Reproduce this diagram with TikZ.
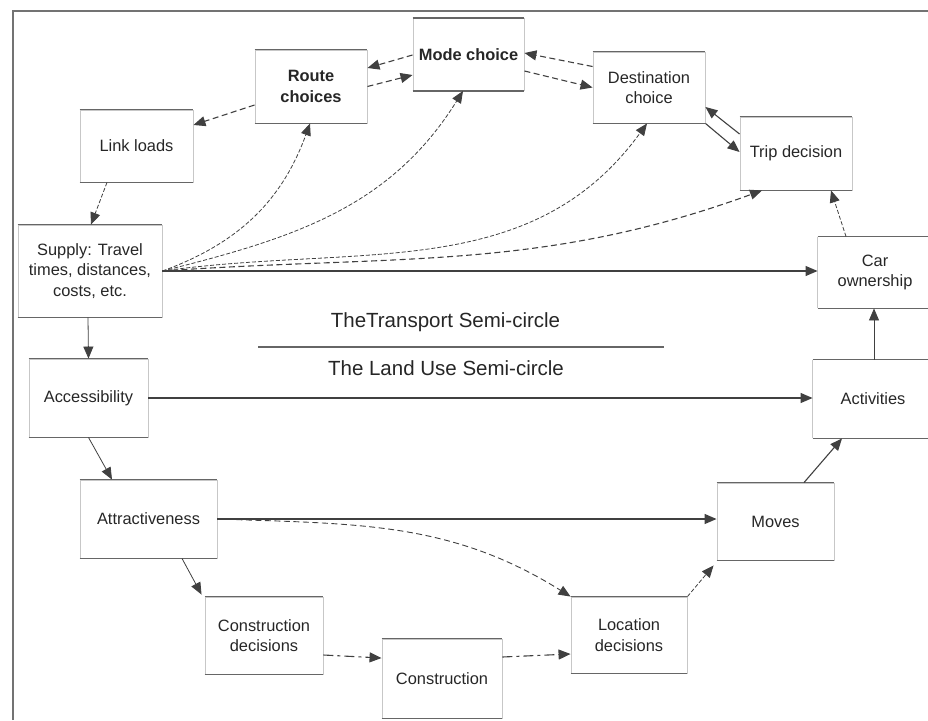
\documentclass[tikz,border=0pt]{standalone}
\usepackage{fontspec}
\setmainfont{Liberation Sans}
\usetikzlibrary{arrows.meta}
\begin{document}
\begin{tikzpicture}[x=1pt,y=-1pt,
  box/.style={draw=black!22, line width=0.9pt, align=center, inner sep=2pt,
    text=black!85, font=\fontsize{16.4}{20.5}\selectfont},
  openbox/.style={box, draw=none},
  side/.style={draw=black!22, line width=0.9pt},
  edge/.style={draw=black!60, line width=1.3pt},
  conn/.style={draw=black!75, line width=1.1pt, -{Triangle[length=12pt,width=10pt]}},
  dconn/.style={conn, dash pattern=on 6pt off 3.5pt},
  fconn/.style={conn, line width=0.8pt, dash pattern=on 4pt off 2pt},
  ldconn/.style={conn, dash pattern=on 10pt off 4pt on 3pt off 4pt},
  heading/.style={text=black!85, font=\fontsize{20.5}{24}\selectfont},
  frame/.style={draw=black!55, line width=2pt}]
\useasboundingbox (0,0) rectangle (928,720);

% outer frame (top and left edges)
\coordinate (fbl) at (13,720);
\coordinate (ftl) at (13,11);
\coordinate (ftr) at (928,11);
\draw[frame] (fbl) -- (ftl) -- (ftr);

% transport semi-circle
\node[box, minimum width=111pt, minimum height=72pt, font=\fontsize{16.4}{20.5}\selectfont\bfseries] (mode) at (468.5,54.5) {Mode choice};
\node[box, minimum width=112pt, minimum height=73pt, font=\fontsize{16.4}{20.5}\selectfont\bfseries] (route) at (311,86.5) {Route\\choices};
\node[box, minimum width=113pt, minimum height=72pt] (link) at (136.5,146) {Link loads};
\node[box, minimum width=112pt, minimum height=71pt] (dest) at (649,87.5) {Destination\\choice};
\node[box, minimum width=112pt, minimum height=73pt] (trip) at (796,153.5) {Trip decision};
\node[box, minimum width=144pt, minimum height=92pt] (supply) at (90,271) {Supply: Travel\\times, distances,\\costs, etc.};
\node[openbox, minimum width=114pt, minimum height=71pt] (car) at (875,272.5) {Car\\ownership};

% land use semi-circle
\node[box, minimum width=119pt, minimum height=78pt] (access) at (88.5,398) {Accessibility};
\node[openbox, minimum width=120pt, minimum height=78pt] (act) at (873,399) {Activities};
\node[box, minimum width=137pt, minimum height=78pt] (attract) at (148.5,519) {Attractiveness};
\node[box, minimum width=117pt, minimum height=77pt] (moves) at (775.5,521.5) {Moves};
\node[box, minimum width=118pt, minimum height=77pt] (cdec) at (264,635.5) {Construction\\decisions};
\node[box, minimum width=120pt, minimum height=79pt] (constr) at (442,678.5) {Construction};
\node[box, minimum width=116pt, minimum height=76pt] (loc) at (629,635) {Location\\decisions};

% the two boxes at the right border run off the page: left sides only
\draw[side] (car.north west) -- (car.south west);
\draw[side] (act.north west) -- (act.south west);

% darker top and bottom box edges
\foreach \n in {mode,route,link,dest,trip,supply,car,access,act,attract,moves,cdec,constr,loc}
  \draw[edge] (\n.north west) -- (\n.north east) (\n.south west) -- (\n.south east);

% headings and separator
\node[heading] (thead) at (445.5,322) {TheTransport Semi-circle};
\node[heading] (lhead) at (446,368) {The Land Use Semi-circle};
\coordinate (sepL) at (258,347);
\coordinate (sepR) at (664,347);
\draw[edge, line width=1.6pt] (sepL) -- (sepR);

% transport links
\draw[dconn] ([yshift=-0.5pt]mode.west) -- ([yshift=18.5pt]route.east);
\draw[dconn] (route.east) -- ([yshift=-20.5pt]mode.west);
\draw[dconn] ([yshift=21pt]dest.west) -- ([yshift=1.5pt]mode.east);
\draw[dconn] ([yshift=-16.5pt]mode.east) -- (dest.west);
\draw[dconn] ([yshift=-18.5pt]route.west) -- ([yshift=21pt]link.east);
\draw[fconn] ([xshift=-29.5pt]link.south) -- ([xshift=1pt]supply.north);
\draw[conn] ([yshift=19.5pt]trip.west) -- ([yshift=-19.5pt]dest.east);
\draw[conn] (dest.south east) -- ([yshift=1.5pt]trip.west);
\draw[fconn] ([xshift=-29pt]car.north) -- ([xshift=35pt]trip.south);

% supply feedback
\draw[fconn] (supply.east) to[out=20,in=-110] ([xshift=-1pt]route.south);
\draw[fconn] (supply.east) to[out=14,in=-122] ([xshift=-5.5pt]mode.south);
\draw[fconn] (supply.east) to[out=8,in=-126] ([xshift=-2pt]dest.south);
\draw[dconn] (supply.east) to[out=4,in=-160] ([xshift=-34pt]trip.south);
\draw[conn] (supply.east) -- (supply.east -| car.west);
\draw[conn, line width=0.8pt] ([xshift=-2pt]supply.south) -- (access.north);

% land use links
\draw[conn, line width=1.3pt] (access.east) -- (access.east -| act.west);
\draw[conn, line width=0.8pt] (access.south) -- ([xshift=-36.5pt]attract.north);
\draw[conn, line width=1.3pt] (attract.east) -- (attract.east -| moves.west);
\draw[dconn, line width=0.9pt] (attract.east) to[out=-2,in=148] (loc.north west);
\draw[conn, line width=0.8pt] ([xshift=33.5pt]attract.south) -- ([shift={(-3pt,2pt)}]cdec.north west);
\draw[ldconn] ([yshift=-19.5pt]cdec.east) -- ([yshift=20.5pt]constr.west);
\draw[ldconn] ([yshift=21.5pt]constr.east) -- ([yshift=-19pt]loc.west);
\draw[fconn] (loc.north east) -- ([shift={(-3pt,-5pt)}]moves.south west);
\draw[conn] ([xshift=28.5pt]moves.north) -- ([xshift=-31pt]act.south);
\draw[conn, line width=0.8pt] ([xshift=1pt]act.north) -- ([xshift=-1pt]car.south);
\end{tikzpicture}
\end{document}
